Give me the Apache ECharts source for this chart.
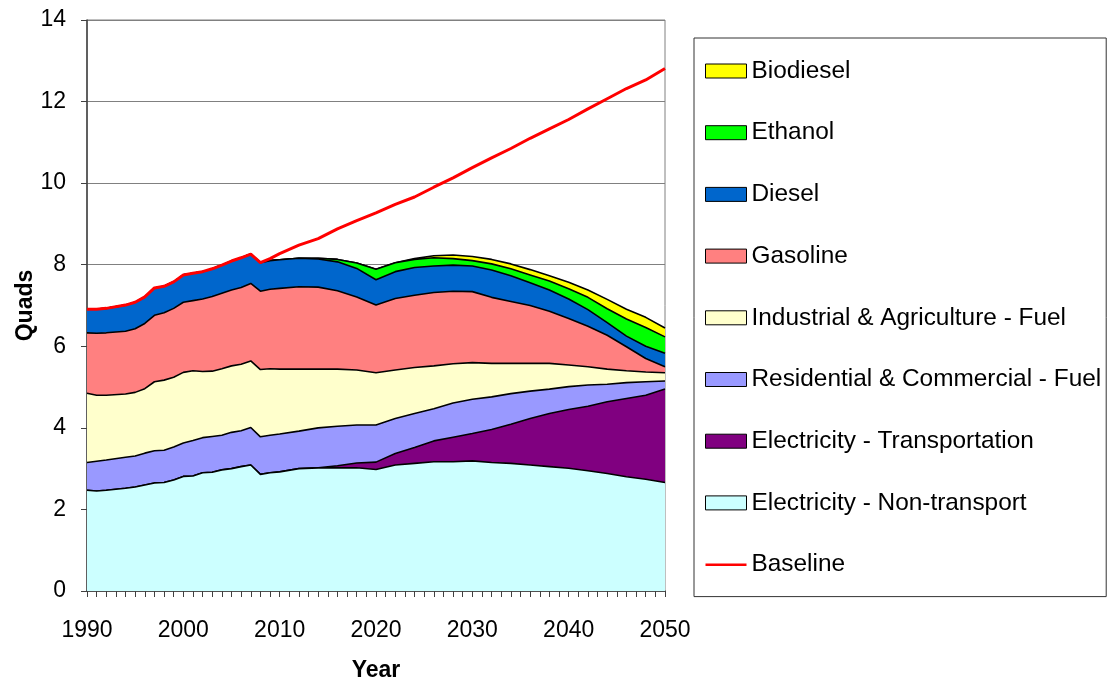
<!DOCTYPE html>
<html>
<head>
<meta charset="utf-8">
<script src="https://cdn.jsdelivr.net/npm/echarts@6/dist/echarts.min.js"></script>
<style>
  html, body { margin: 0; padding: 0; background: #fff; }
  #chart { width: 1109px; height: 679px; }
</style>
</head>
<body>
<div id="chart"></div>
<script>
// axis categories: every year 1990..2050
var allYears = []
for (var yr = 1990; yr <= 2050; yr++) allYears.push(String(yr))

// years
var years = [1990, 1991, 1992, 1994, 1995, 1996, 1997, 1998, 1999, 2000, 2001, 2002, 2003, 2004, 2005, 2006, 2007, 2008, 2009, 2010,
  2012, 2014, 2016, 2018, 2020, 2022, 2024, 2026, 2028, 2030, 2032, 2034, 2036, 2038, 2040, 2042, 2044, 2046, 2048, 2050]

var elecNonTransport = [2.47, 2.45, 2.47, 2.52, 2.55, 2.60, 2.65, 2.66, 2.72, 2.81, 2.82, 2.90, 2.91, 2.97, 3.00, 3.05, 3.09, 2.86, 2.90, 2.92,
  3.00, 3.02, 3.02, 3.02, 2.98, 3.09, 3.13, 3.17, 3.17, 3.19, 3.15, 3.13, 3.09, 3.05, 3.01, 2.95, 2.88, 2.80, 2.74, 2.66]
var elecTransport = [0, 0, 0, 0, 0, 0, 0, 0, 0, 0, 0, 0, 0, 0, 0, 0, 0, 0, 0, 0,
  0, 0, 0.05, 0.12, 0.18, 0.28, 0.39, 0.51, 0.60, 0.67, 0.81, 0.96, 1.14, 1.30, 1.44, 1.58, 1.76, 1.92, 2.06, 2.29]
var resComFuel = [0.68, 0.73, 0.74, 0.76, 0.76, 0.78, 0.79, 0.79, 0.81, 0.82, 0.87, 0.86, 0.88, 0.85, 0.89, 0.88, 0.92, 0.92, 0.92, 0.93,
  0.92, 0.98, 0.97, 0.93, 0.91, 0.86, 0.83, 0.79, 0.84, 0.84, 0.80, 0.75, 0.67, 0.60, 0.56, 0.52, 0.43, 0.39, 0.33, 0.20]
var indAgFuel = [1.70, 1.62, 1.59, 1.55, 1.56, 1.58, 1.69, 1.72, 1.71, 1.73, 1.71, 1.62, 1.60, 1.63, 1.63, 1.63, 1.63, 1.65, 1.63, 1.59,
  1.52, 1.44, 1.40, 1.35, 1.28, 1.19, 1.13, 1.05, 0.96, 0.90, 0.82, 0.74, 0.68, 0.63, 0.53, 0.45, 0.37, 0.29, 0.24, 0.20]
var gasoline = [1.48, 1.52, 1.53, 1.54, 1.56, 1.60, 1.63, 1.65, 1.69, 1.72, 1.72, 1.78, 1.83, 1.85, 1.86, 1.88, 1.90, 1.92, 1.95, 1.98,
  2.02, 2.01, 1.92, 1.79, 1.66, 1.75, 1.77, 1.80, 1.78, 1.74, 1.62, 1.52, 1.42, 1.28, 1.14, 0.99, 0.83, 0.59, 0.33, 0.15]
var diesel = [0.58, 0.59, 0.60, 0.64, 0.65, 0.65, 0.67, 0.65, 0.65, 0.67, 0.67, 0.67, 0.68, 0.69, 0.71, 0.73, 0.72, 0.70, 0.70, 0.70,
  0.70, 0.69, 0.71, 0.70, 0.62, 0.66, 0.68, 0.65, 0.64, 0.63, 0.67, 0.63, 0.56, 0.52, 0.48, 0.41, 0.31, 0.26, 0.30, 0.33]
var ethanol = [0, 0, 0, 0, 0, 0, 0, 0, 0, 0, 0, 0, 0, 0, 0, 0, 0, 0, 0, 0,
  0, 0.02, 0.06, 0.13, 0.26, 0.22, 0.20, 0.20, 0.16, 0.13, 0.15, 0.17, 0.19, 0.22, 0.25, 0.30, 0.34, 0.42, 0.46, 0.40]
var biodiesel = [0, 0, 0, 0, 0, 0, 0, 0, 0, 0, 0, 0, 0, 0, 0, 0, 0, 0, 0, 0,
  0, 0, 0, 0, 0, 0, 0.02, 0.05, 0.09, 0.10, 0.11, 0.12, 0.13, 0.13, 0.16, 0.18, 0.23, 0.24, 0.25, 0.22]
var baseline = [6.91, 6.91, 6.93, 7.01, 7.08, 7.21, 7.43, 7.47, 7.58, 7.75, 7.79, 7.83, 7.90, 7.99, 8.09, 8.17, 8.26, 8.05, 8.15, 8.27,
  8.48, 8.64, 8.88, 9.08, 9.27, 9.48, 9.66, 9.90, 10.13, 10.38, 10.62, 10.85, 11.10, 11.33, 11.56, 11.82, 12.07, 12.32, 12.53, 12.81]

var names = ['Electricity - Non-transport', 'Electricity - Transportation', 'Residential & Commercial - Fuel',
  'Industrial & Agriculture - Fuel', 'Gasoline', 'Diesel', 'Ethanol', 'Biodiesel']
var colors = ['#CCFFFF', '#800080', '#9999FF', '#FFFFCC', '#FF8080', '#0066CC', '#00FF00', '#FFFF00']
var values = [elecNonTransport, elecTransport, resComFuel, indAgFuel, gasoline, diesel, ethanol, biodiesel]

var font = 'Liberation Sans, Arial, sans-serif'

function pairs (arr) {
  return years.map(function (y, i) { return [String(y), arr[i]] })
}

var series = names.map(function (n, i) {
  return {
    name: n,
    type: 'line',
    stack: 'total',
    symbol: 'none',
    z: 20 - i,
    data: pairs(values[i]),
    itemStyle: { color: colors[i] },
    lineStyle: { color: '#000', width: 1.6 },
    areaStyle: { color: colors[i], opacity: 1 }
  }
})
series.push({
  name: 'Baseline',
  type: 'line',
  symbol: 'none',
  z: 30,
  data: pairs(baseline),
  itemStyle: { color: '#FF0000' },
  lineStyle: { color: '#FF0000', width: 3 }
})

var legendData = names.slice().reverse().map(function (n) {
  return { name: n, icon: 'rect', itemStyle: { borderColor: '#000', borderWidth: 1 } }
})
// thin red stroke in the middle of the swatch box
legendData.push({
  name: 'Baseline',
  icon: 'path://M0,0L0.01,0L0.01,0.01ZM0,5.8L41,5.8L41,8.4L0,8.4ZM0,14L0.01,14L0.01,13.99Z',
  itemStyle: { borderWidth: 0 }
})

var chart = echarts.init(document.getElementById('chart'))
chart.setOption({
  animation: false,
  backgroundColor: '#fff',
  textStyle: { fontFamily: font },
  grid: {
    left: 87, right: 444, top: 20, bottom: 88,
    containLabel: false,
    outerBoundsMode: 'none',
    show: true, borderColor: '#808080', borderWidth: 1
  },
  legend: {
    orient: 'vertical',
    left: 694,
    top: 38,
    padding: [21, 5, 20, 11],
    itemWidth: 41,
    itemHeight: 14,
    itemGap: 37.7,
    backgroundColor: '#fff',
    borderColor: '#333',
    borderWidth: 1,
    textStyle: { fontSize: 24.4, lineHeight: 20, color: '#000', fontFamily: font },
    data: legendData
  },
  xAxis: {
    type: 'category',
    data: allYears,
    boundaryGap: false,
    name: 'Year',
    nameLocation: 'middle',
    nameGap: 68,
    nameTextStyle: { fontSize: 23, fontWeight: 'bold', color: '#000' },
    axisLine: { show: true, lineStyle: { color: '#404040', width: 1.5 } },
    axisTick: { show: true, interval: 0, length: 6, lineStyle: { color: '#404040' } },
    splitLine: { show: false },
    axisLabel: { fontSize: 23, color: '#000', margin: 28, interval: 9 }
  },
  yAxis: {
    type: 'value',
    min: 0,
    max: 14,
    interval: 2,
    name: 'Quads',
    nameLocation: 'middle',
    nameGap: 50,
    nameMoveOverlap: false,
    nameRotate: 90,
    nameTextStyle: { fontSize: 23, fontWeight: 'bold', color: '#000' },
    axisLine: { show: true, lineStyle: { color: '#404040', width: 1.5 } },
    axisTick: { show: true, length: 6, lineStyle: { color: '#404040' } },
    splitLine: { show: true, lineStyle: { color: '#808080', width: 1 } },
    axisLabel: { fontSize: 23, color: '#000', margin: 21 }
  },
  series: series
})
</script>
</body>
</html>
